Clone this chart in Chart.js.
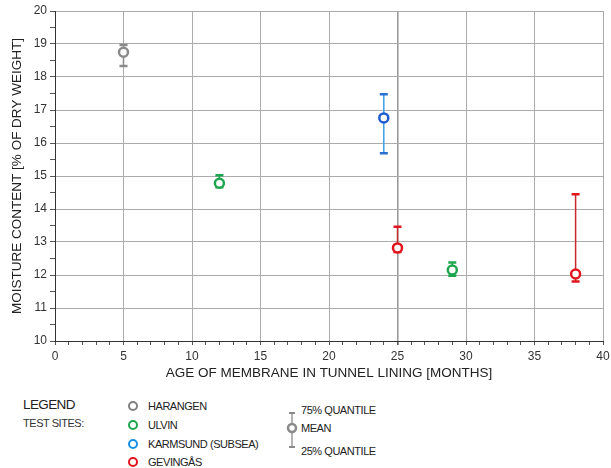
<!DOCTYPE html>
<html>
<head>
<meta charset="utf-8">
<script src="https://cdn.jsdelivr.net/npm/chart.js@4/dist/chart.umd.min.js"></script>
<style>
  html, body { margin: 0; padding: 0; background: #fff; }
  body { width: 611px; height: 468px; position: relative; overflow: hidden;
         font-family: "Liberation Sans", Arial, sans-serif; color: #222; }
  #wrap { position: absolute; left: 0; top: 0; width: 611px; height: 381px; }
  .lg { position: absolute; white-space: nowrap; line-height: 1; letter-spacing: -0.45px; }
  .dot { position: absolute; width: 6px; height: 6px; border-radius: 50%;
         border: 2.5px solid; background: #fff; }
</style>
</head>
<body>
<div id="wrap"><canvas id="c" width="611" height="381"></canvas></div>

<div class="lg" style="left:23px; top:398px; font-size:13.5px; letter-spacing:-0.6px;">LEGEND</div>
<div class="lg" style="left:23px; top:418px; font-size:11px; color:#333;">TEST SITES:</div>
<div id="siteLegend"></div>

<div class="lg" style="left:301px; top:405px; font-size:11px;">75% QUANTILE</div>
<div class="lg" style="left:301px; top:423px; font-size:11px;">MEAN</div>
<div class="lg" style="left:301px; top:446px; font-size:11px;">25% QUANTILE</div>
<svg style="position:absolute; left:284px; top:409px;" width="16" height="42">
  <line x1="8" y1="4" x2="8" y2="38" stroke="#9a9a9a" stroke-width="1.5"/>
  <line x1="5" y1="4" x2="11" y2="4" stroke="#8a8a8a" stroke-width="2"/>
  <line x1="5" y1="38" x2="11" y2="38" stroke="#8a8a8a" stroke-width="2"/>
  <circle cx="8" cy="19" r="4" fill="#fff" stroke="#8a8a8a" stroke-width="2.5"/>
</svg>

<script>
// Test sites and their colours
const sites = ['HARANGEN', 'ULVIN', 'KARMSUND (SUBSEA)', 'GEVINGÅS'];
const markerColors = ['#8a8a8a', '#1ea64e', '#1f5ccf', '#e2141c'];
const whiskerColors = ['#8a8a8a', '#1ea64e', '#3b9fe0', '#c42a30'];
const capColors = ['#8a8a8a', '#1ea64e', '#2a6fd2', '#e2141c'];
const legendColors = ['#808080', '#1ea64e', '#1a90e2', '#e2141c'];

// Measurements: membrane age [months], site index, mean and quartiles of moisture content
const ages = [5, 12, 24, 25, 29, 38];
const siteOf = [0, 1, 2, 3, 1, 3];
const means = [18.75, 14.78, 16.76, 12.82, 12.15, 12.03];
const q75 = [18.97, 15.02, 17.48, 13.46, 12.38, 14.45];
const q25 = [18.33, 14.66, 15.69, 12.70, 11.98, 11.80];

// Axis settings
const xMin = 0, xMax = 40, xMajor = 5;
const yMin = 10, yMax = 20;

// One scatter dataset per site
const datasets = sites.map((name, s) => ({
  label: name,
  data: ages.map((a, i) => ({ x: a, y: means[i], i }))
            .filter(p => siteOf[p.i] === s),
  pointRadius: 4.5,
  pointBorderWidth: 2.5,
  pointBorderColor: markerColors[s],
  pointBackgroundColor: '#fff',
  showLine: false
}));

// Whiskers from 25% to 75% quantile, drawn under the markers
const whiskers = {
  id: 'whiskers',
  beforeDatasetsDraw(chart) {
    const { ctx, scales: { x, y } } = chart;
    ctx.save();
    ages.forEach((a, i) => {
      const s = siteOf[i];
      const px = x.getPixelForValue(a);
      const top = y.getPixelForValue(q75[i]);
      const bot = y.getPixelForValue(q25[i]);
      ctx.strokeStyle = whiskerColors[s];
      ctx.lineWidth = 1.5;
      ctx.beginPath(); ctx.moveTo(px, top); ctx.lineTo(px, bot); ctx.stroke();
      ctx.strokeStyle = capColors[s];
      ctx.lineWidth = 2.5;
      ctx.beginPath();
      ctx.moveTo(px - 4, top); ctx.lineTo(px + 4, top);
      ctx.moveTo(px - 4, bot); ctx.lineTo(px + 4, bot);
      ctx.stroke();
    });
    ctx.restore();
  }
};

new Chart(document.getElementById('c'), {
  type: 'scatter',
  data: { datasets },
  plugins: [whiskers],
  options: {
    responsive: false,
    animation: false,
    layout: { padding: { top: 11, right: 8, left: 0, bottom: 0 } },
    plugins: { legend: { display: false }, tooltip: { enabled: false } },
    scales: {
      x: {
        type: 'linear', min: xMin, max: xMax,
        afterFit(scale) { scale.height = 40; scale.paddingRight = 0; scale.paddingLeft = 0; },
        ticks: {
          stepSize: 1, autoSkip: false, maxRotation: 0, padding: 4,
          color: '#333', font: { family: 'Liberation Sans', size: 12 },
          callback: v => (v % xMajor === 0 ? v : '')
        },
        grid: {
          color: c => (c.tick && c.tick.value % xMajor === 0 ? (c.tick.value === 25 ? '#9a9a9a' : '#ababab') : 'rgba(0,0,0,0)'),
          lineWidth: c => (c.tick && c.tick.value === 25 ? 1.6 : 1),
          tickColor: '#555', tickLength: 4
        },
        border: { color: '#333', width: 1 },
        title: {
          display: true, text: 'AGE OF MEMBRANE IN TUNNEL LINING [MONTHS]',
          color: '#222', font: { family: 'Liberation Sans', size: 13.5 },
          padding: { top: 0, bottom: 0 }
        }
      },
      y: {
        min: yMin, max: yMax,
        afterFit(scale) { scale.width = 55; scale.paddingTop = 0; scale.paddingBottom = 0; },
        ticks: {
          stepSize: 0.5, autoSkip: false, padding: 3,
          color: '#333', font: { family: 'Liberation Sans', size: 12 },
          callback: v => (Number.isInteger(v) ? v : '')
        },
        grid: {
          color: c => (c.tick && Number.isInteger(c.tick.value) ? '#ababab' : 'rgba(0,0,0,0)'),
          tickColor: '#555', tickLength: 5
        },
        border: { color: '#333', width: 1 },
        title: {
          display: true, text: 'MOISTURE CONTENT [% OF DRY WEIGHT]',
          color: '#222', font: { family: 'Liberation Sans', size: 13.5 },
          padding: { top: 9, bottom: 0 }
        }
      }
    }
  }
});

// Site legend rows
const holder = document.getElementById('siteLegend');
sites.forEach((name, s) => {
  const top = 401 + s * 18.8;
  const d = document.createElement('div');
  d.className = 'dot';
  d.style.left = '128px'; d.style.top = top + 'px';
  d.style.borderColor = legendColors[s];
  holder.appendChild(d);
  const t = document.createElement('div');
  t.className = 'lg';
  t.style.left = '148px'; t.style.top = top + 'px'; t.style.fontSize = '11px';
  t.textContent = name;
  holder.appendChild(t);
});
</script>
</body>
</html>
